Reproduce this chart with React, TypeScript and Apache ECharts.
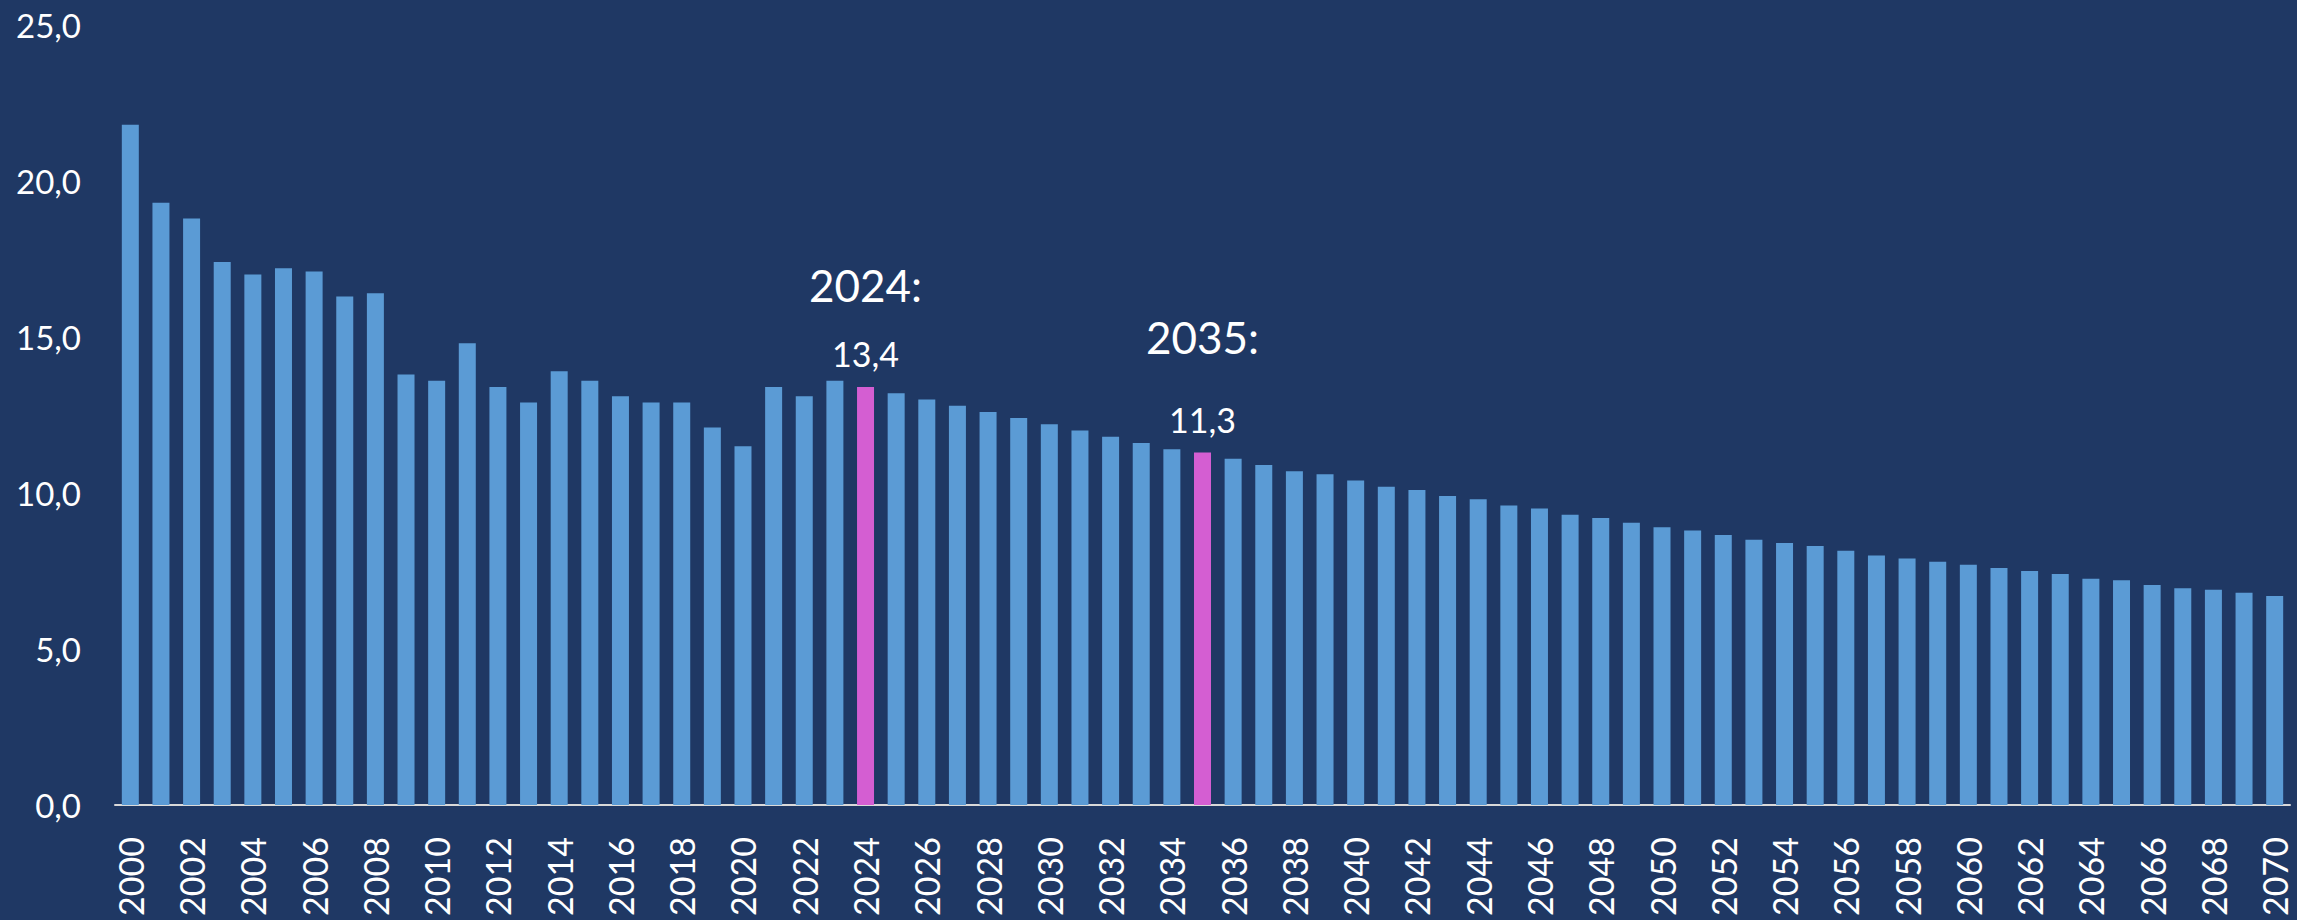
import React, { useEffect, useRef } from "react";
import * as echarts from "echarts";

const years = [
  "2000","2001","2002","2003","2004","2005","2006","2007","2008","2009",
  "2010","2011","2012","2013","2014","2015","2016","2017","2018","2019",
  "2020","2021","2022","2023","2024","2025","2026","2027","2028","2029",
  "2030","2031","2032","2033","2034","2035","2036","2037","2038","2039",
  "2040","2041","2042","2043","2044","2045","2046","2047","2048","2049",
  "2050","2051","2052","2053","2054","2055","2056","2057","2058","2059",
  "2060","2061","2062","2063","2064","2065","2066","2067","2068","2069",
  "2070",
];

const values = [
  21.8, 19.3, 18.8, 17.4, 17.0, 17.2, 17.1, 16.3, 16.4, 13.8,
  13.6, 14.8, 13.4, 12.9, 13.9, 13.6, 13.1, 12.9, 12.9, 12.1,
  11.5, 13.4, 13.1, 13.6, 13.4, 13.2, 13.0, 12.8, 12.6, 12.4,
  12.2, 12.0, 11.8, 11.6, 11.4, 11.3, 11.1, 10.9, 10.7, 10.6,
  10.4, 10.2, 10.1, 9.9, 9.8, 9.6, 9.5, 9.3, 9.2, 9.05,
  8.9, 8.8, 8.65, 8.5, 8.4, 8.3, 8.15, 8.0, 7.9, 7.8,
  7.7, 7.6, 7.5, 7.4, 7.25, 7.2, 7.05, 6.95, 6.9, 6.8,
  6.7,
];

const highlightYears = ["2024", "2035"];
const highlightTitleLineHeights = [98, 124];

const yTicks = { min: 0, max: 25, interval: 5 };

const BG = "#1F3864";
const BAR = "#5B9BD5";
const HIGHLIGHT = "#D45ED2";
const FONT = "Lato";

const fmt = (v: number) => v.toFixed(1).replace(".", ",");

export default function App() {
  const ref = useRef<HTMLDivElement>(null);

  useEffect(() => {
    document.body.style.margin = "0";
    if (!ref.current) return;
    const chart = echarts.init(ref.current, undefined, { renderer: "svg" });

    const data = values.map((v, i) => {
      const hi = highlightYears.indexOf(years[i]);
      if (hi < 0) return v;
      return {
        value: v,
        itemStyle: { color: HIGHLIGHT },
        label: {
          show: true,
          position: "top",
          distance: 13,
          formatter: `{t|${years[i]}:}\n{v|${fmt(v)}}`,
          rich: {
            t: {
              fontSize: 44,
              fontFamily: FONT,
              color: "#FFFFFF",
              lineHeight: highlightTitleLineHeights[hi],
            },
            v: {
              fontSize: 34,
              fontFamily: FONT,
              color: "#FFFFFF",
              lineHeight: 40,
            },
          },
        },
      };
    });

    chart.setOption({
      animation: false,
      backgroundColor: BG,
      grid: { left: 115, right: 7, top: 25, bottom: 115, containLabel: false },
      xAxis: {
        type: "category",
        data: years,
        axisLine: { show: true, lineStyle: { color: "#D9D9D9", width: 2 } },
        axisTick: { show: false },
        axisLabel: {
          interval: 1,
          rotate: 90,
          color: "#FFFFFF",
          fontSize: 34,
          lineHeight: 30,
          fontFamily: FONT,
          margin: 32,
        },
        splitLine: { show: false },
      },
      yAxis: {
        type: "value",
        min: yTicks.min,
        max: yTicks.max,
        interval: yTicks.interval,
        axisLine: { show: false },
        axisTick: { show: false },
        splitLine: { show: false },
        axisLabel: {
          color: "#FFFFFF",
          fontSize: 33,
          fontFamily: FONT,
          margin: 34,
          formatter: (v: number) => fmt(v),
        },
      },
      series: [
        {
          type: "bar",
          data,
          barWidth: 17,
          itemStyle: { color: BAR },
          label: { show: false },
        },
      ],
    });

    return () => chart.dispose();
  }, []);

  return <div ref={ref} style={{ width: 2297, height: 920 }} />;
}
